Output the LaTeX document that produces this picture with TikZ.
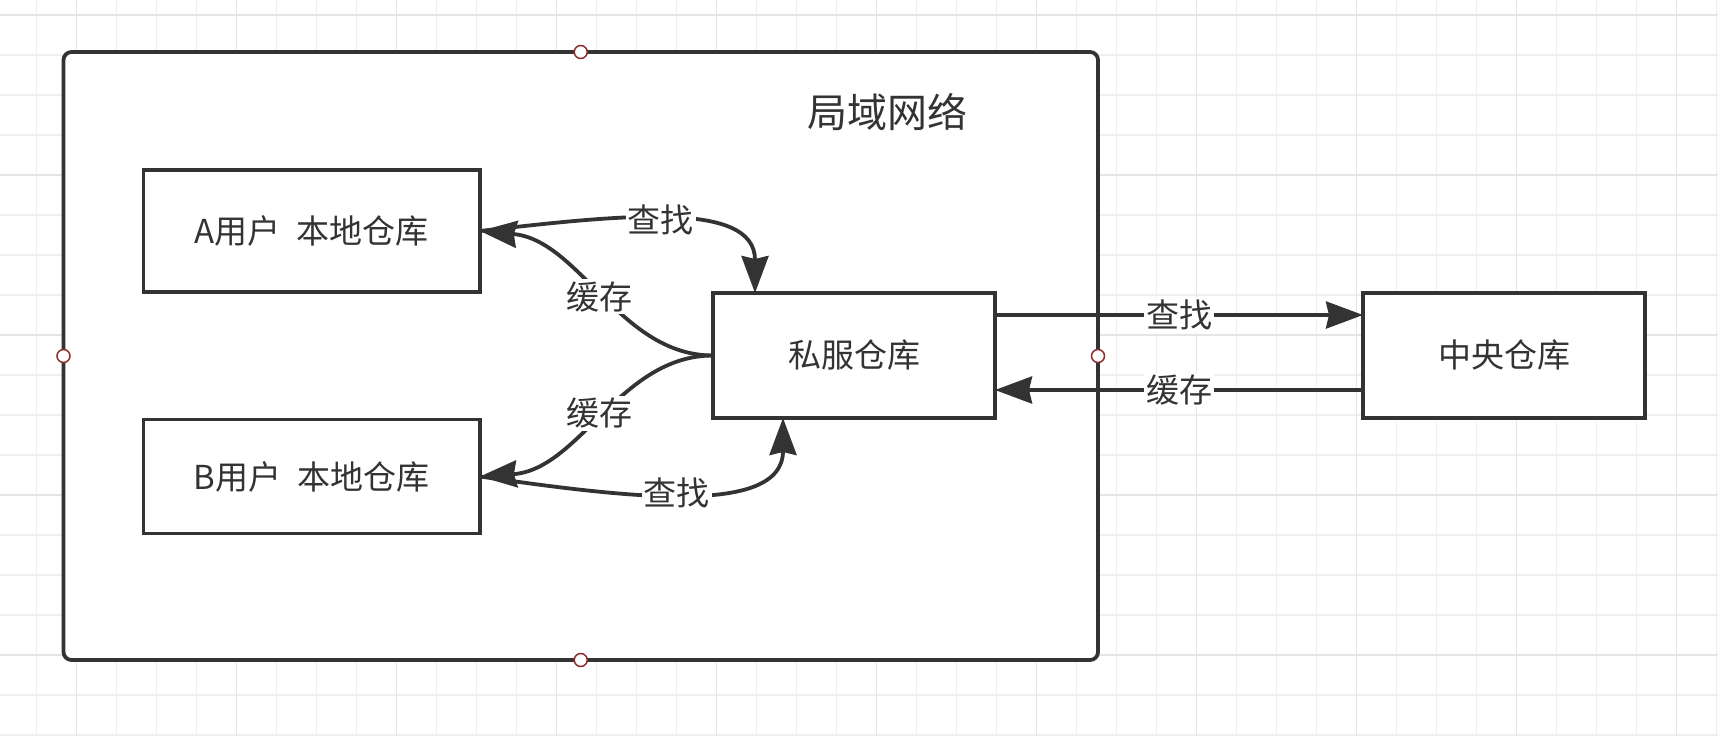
\documentclass[tikz,border=0pt]{standalone}
\usepackage{fontspec}
\setmainfont{Noto Sans CJK SC}
\usetikzlibrary{arrows.meta,calc}
\definecolor{ink}{HTML}{333333}
\definecolor{gridminor}{HTML}{EFEFEF}
\definecolor{gridmajor}{HTML}{E5E5E5}
\definecolor{handlecol}{HTML}{8E2A2A}
\begin{document}
\begin{tikzpicture}[x=1pt,y=-1pt,
  box/.style={draw=ink, line width=3.8pt, fill=white, rectangle, inner sep=0pt, outer sep=0pt, text=ink, font=\fontsize{33}{40}\selectfont},
  lbl/.style={fill=white, text=ink, inner sep=2pt, font=\fontsize{33}{40}\selectfont},
  conn/.style={draw=ink, line width=3.8pt, -{Stealth[length=37pt,width=27pt,inset=3pt]}},
  hdl/.style={circle, draw=handlecol, fill=white, line width=1.5pt, minimum size=13pt, inner sep=0pt},
  gminor/.style={draw=gridminor, line width=1.5pt},
  gmajor/.style={draw=gridmajor, line width=1.5pt}]
\useasboundingbox (0,0) rectangle (1718,736);
\fill[white] (0,0) rectangle (1718,736);
% grid
\foreach \i in {0,...,42} \draw[gminor] ({36.7+40*\i},0) -- ({36.7+40*\i},736);
\foreach \j in {0,...,18} \draw[gminor] (0,{15+40*\j}) -- (1718,{15+40*\j});
\foreach \i in {0,...,10} \draw[gmajor] ({76.7+160*\i},0) -- ({76.7+160*\i},736);
\foreach \j in {0,...,4} \draw[gmajor] (0,{15+160*\j}) -- (1718,{15+160*\j});
% container
\node[box, rounded corners=8pt, minimum width=1034.5pt, minimum height=608pt] (lan) at (580.75,356) {};
\node[text=ink, font=\fontsize{40}{48}\selectfont, inner sep=0pt] (title) at (887,112) {局域网络};
% boxes
\node[box, minimum width=336.5pt, minimum height=122pt] (A) at (311.75,231) {A用户\hspace{16pt}本地仓库};
\node[box, minimum width=336.5pt, minimum height=114pt] (B) at (311.75,476.5) {B用户\hspace{16pt}本地仓库};
\node[box, minimum width=282pt, minimum height=125pt] (P) at (854,355.5) {私服仓库};
\node[box, minimum width=282pt, minimum height=125pt] (C) at (1504,355.5) {中央仓库};
% attachment points
\coordinate (Ptop) at ($(P.north west)+(42,0)$);
\coordinate (Pbot) at ($(P.south west)+(70,0)$);
\coordinate (Pr1) at ($(P.east)+(0,-40.5)$);
\coordinate (Pr2) at ($(P.east)+(0,34.5)$);
\coordinate (Cl1) at ($(C.west)+(0,-40.5)$);
\coordinate (Cl2) at ($(C.west)+(0,34.5)$);
% curved connectors
\draw[conn] (A.east) .. controls +(140,-16) and +(0,-93) .. (Ptop) node[lbl, pos=0.47] (la1) {查找};
\draw[conn] (P.west) .. controls +(-93,0) and +(100,9) .. (A.east) node[lbl, pos=0.5] (la2) {缓存};
\draw[conn] (P.west) .. controls +(-93,0) and +(100,-7) .. (B.east) node[lbl, pos=0.5] (lb2) {缓存};
\draw[conn] (B.east) .. controls +(140,20) and +(0,100) .. (Pbot) node[lbl, pos=0.48] (lb1) {查找};
% straight connectors
\draw[conn] (Pr1) -- (Cl1) node[lbl, pos=0.5] (lc1) {查找};
\draw[conn] (Cl2) -- (Pr2) node[lbl, pos=0.5] (lc2) {缓存};
% handles
\node[hdl] (h1) at (lan.north) {};
\node[hdl] (h2) at (lan.south) {};
\node[hdl] (h3) at (lan.west) {};
\node[hdl] (h4) at (lan.east) {};
\end{tikzpicture}
\end{document}
